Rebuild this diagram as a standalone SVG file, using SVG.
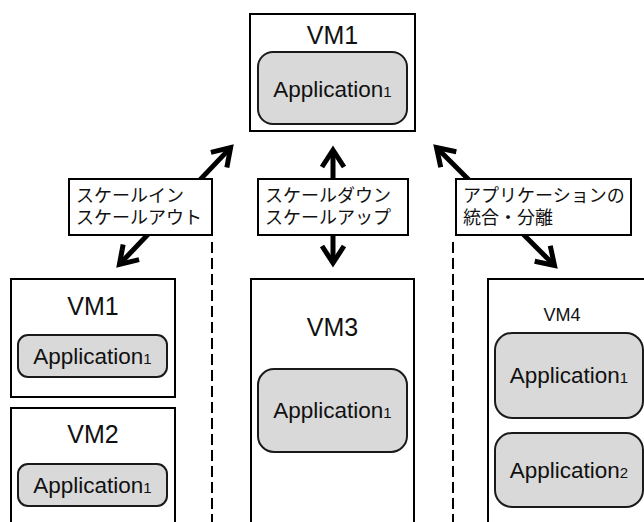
<svg xmlns="http://www.w3.org/2000/svg" width="644" height="522" viewBox="0 0 644 522">
<style>
.vm{fill:#fff;stroke:#000;stroke-width:2}
.app{fill:#d9d9d9;stroke:#1a1a1a;stroke-width:2}
.lbl{fill:#fff;stroke:#000;stroke-width:2}
.t{font-family:"Liberation Sans",Arial,sans-serif;fill:#111;text-anchor:middle}
.vmt{font-size:25px}
.apt{font-size:22.5px}
.sub{font-size:15px}
.jp{font-family:"Noto Sans CJK JP","Noto Sans",sans-serif;font-size:18px;fill:#111}
.arr{stroke:#000;stroke-width:5;fill:none;marker-start:url(#ah);marker-end:url(#ah)}
.dash{stroke:#000;stroke-width:2;stroke-dasharray:11 5;fill:none}
</style>
<defs>
<marker id="ah" viewBox="-24 -16 30 32" refX="0" refY="0" markerWidth="30" markerHeight="32" markerUnits="userSpaceOnUse" orient="auto-start-reverse" overflow="visible">
<path d="M-17,-11 L0,0 L-17,11" fill="none" stroke="#000" stroke-width="5" stroke-linejoin="miter" stroke-miterlimit="10"/>
</marker>
</defs>
<rect width="644" height="522" fill="#fff"/>

<g id="connectors">
<line class="arr" x1="230.6" y1="147.6" x2="119.4" y2="264.4"/>
<line class="arr" x1="333" y1="150" x2="333" y2="263"/>
<line class="arr" x1="436.5" y1="147.5" x2="554.5" y2="265.5"/>
<line class="dash" x1="212" y1="242" x2="212" y2="522"/>
<line class="dash" x1="453" y1="242" x2="453" y2="522"/>
</g>

<g id="vm1-top">
<rect class="vm" x="250" y="14" width="165" height="117"/>
<text class="t vmt" x="332.5" y="44">VM1</text>
<rect class="app" x="258" y="52" width="149" height="72" rx="15"/>
<text class="t apt" x="332.5" y="97">Application<tspan class="sub">1</tspan></text>
</g>

<g id="label-scale-in-out">
<rect class="lbl" x="69" y="179" width="143" height="56"/>
<text class="jp" x="76" y="202">スケールイン</text>
<text class="jp" x="76" y="224">スケールアウト</text>
</g>

<g id="label-scale-down-up">
<rect class="lbl" x="258" y="179" width="150" height="56"/>
<text class="jp" x="265" y="202">スケールダウン</text>
<text class="jp" x="265" y="224">スケールアップ</text>
</g>

<g id="label-merge-split">
<rect class="lbl" x="456" y="179" width="175" height="56"/>
<text class="jp" x="463" y="202">アプリケーションの</text>
<text class="jp" x="463" y="224">統合・分離</text>
</g>

<g id="vm1-left">
<rect class="vm" x="11" y="279" width="164" height="118"/>
<text class="t vmt" x="93" y="315">VM1</text>
<rect class="app" x="18" y="335" width="149" height="42" rx="10"/>
<text class="t apt" x="92.5" y="364">Application<tspan class="sub">1</tspan></text>
</g>

<g id="vm2-left">
<rect class="vm" x="11" y="408" width="164" height="130"/>
<text class="t vmt" x="93" y="443">VM2</text>
<rect class="app" x="18" y="464" width="149" height="42" rx="10"/>
<text class="t apt" x="92.5" y="493">Application<tspan class="sub">1</tspan></text>
</g>

<g id="vm3">
<rect class="vm" x="251" y="279" width="163" height="260"/>
<text class="t vmt" x="332.5" y="336">VM3</text>
<rect class="app" x="258" y="369" width="149" height="83" rx="16"/>
<text class="t apt" x="332.5" y="418">Application<tspan class="sub">1</tspan></text>
</g>

<g id="vm4">
<rect class="vm" x="488" y="279" width="170" height="260"/>
<text class="t" style="font-size:18px" x="562" y="321">VM4</text>
<rect class="app" x="495" y="333" width="148" height="85" rx="17"/>
<text class="t apt" x="569" y="383">Application<tspan class="sub">1</tspan></text>
<rect class="app" x="495" y="433" width="148" height="74" rx="17"/>
<text class="t apt" x="569" y="478">Application<tspan class="sub">2</tspan></text>
</g>
</svg>
